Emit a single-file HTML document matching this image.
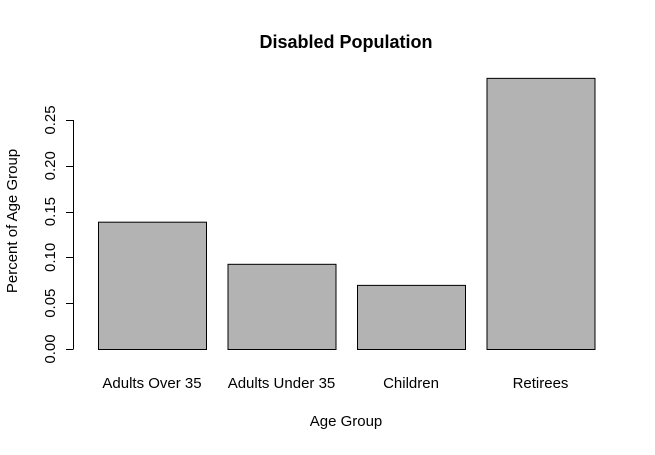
<!DOCTYPE html>
<html><head><meta charset="utf-8"><style>
body{margin:0;background:#fff}
svg text{font-family:"Liberation Sans",Arial,sans-serif;fill:#000}
</style></head><body>
<svg width="655" height="450" id="c">
<text x="346" y="48" text-anchor="middle" font-size="18" font-weight="bold">Disabled Population</text>
<text x="346" y="426" text-anchor="middle" font-size="15">Age Group</text>
<text transform="translate(17,221) rotate(-90)" text-anchor="middle" font-size="15">Percent of Age Group</text>
<g id="bars"></g><g id="yaxis"></g><g id="xl"></g>
</svg>
<script>
const categories=["Adults Over 35","Adults Under 35","Children","Retirees"];
const values=[0.139,0.093,0.070,0.296];
const ticks=[0,0.05,0.10,0.15,0.20,0.25];
const tickLabels=["0.00","0.05","0.10","0.15","0.20","0.25"];
const NS="http://www.w3.org/2000/svg";
const y=v=>349-v*916;
const x=i=>98+i*129.5;
const bw=108;
function mk(t,a,p){const e=document.createElementNS(NS,t);for(const k in a)e.setAttribute(k,a[k]);p.appendChild(e);return e;}
const bars=document.getElementById('bars'),ya=document.getElementById('yaxis'),xl=document.getElementById('xl');
values.forEach((v,i)=>{
 const r=mk('rect',{x:x(i)+0.5,y:y(v)+0.5,width:bw,height:349-y(v),fill:'#b3b3b3',stroke:'#000','stroke-width':1},bars);
 
 
 const t=mk('text',{x:x(i)+bw/2,y:388,'text-anchor':'middle','font-size':15},xl);
 t.textContent=categories[i];
 
 
});
const al=mk('line',{x1:73.5,x2:73.5,y1:y(ticks[0]),y2:y(ticks[ticks.length-1]),stroke:'#000'},ya);


ticks.forEach((v,i)=>{
 const l=mk('line',{x1:66,x2:73.5,y1:Math.round(y(v))+0.5,y2:Math.round(y(v))+0.5,stroke:'#000'},ya);
 
 
 const t=mk('text',{transform:`translate(55,${y(v)}) rotate(-90)`,'text-anchor':'middle','font-size':15},ya);
 t.textContent=tickLabels[i];
 
 
});
</script>
</body></html>
